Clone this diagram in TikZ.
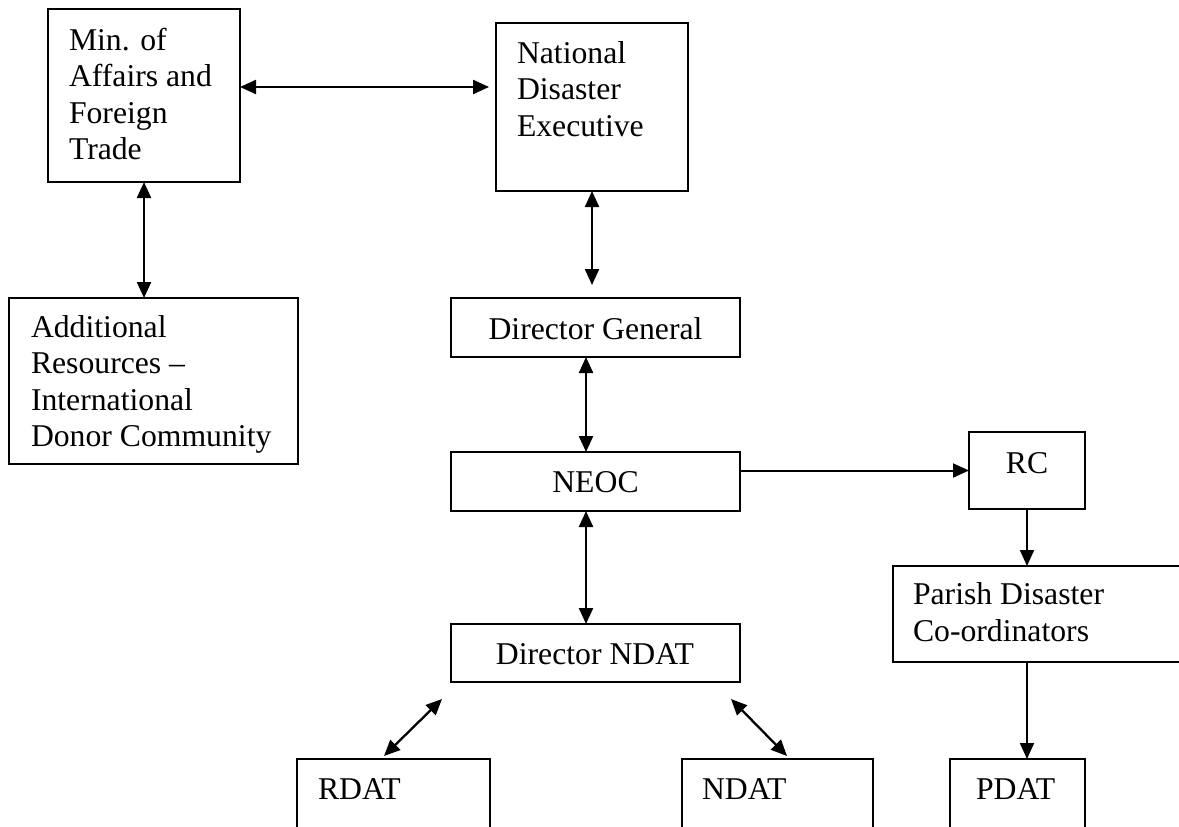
\documentclass[tikz,border=0pt]{standalone}
\usepackage{fontspec}
\setmainfont{Liberation Serif}
\usetikzlibrary{arrows.meta,calc}
\begin{document}
\begin{tikzpicture}[x=1bp,y=-1bp,
  box/.style={draw=black, line width=2bp, inner sep=0pt, outer sep=0pt},
  lbl/.style={inner sep=0pt, outer sep=0pt, anchor=base west, align=left, font=\fontsize{31.7bp}{36.5bp}\selectfont},
  clbl/.style={inner sep=0pt, outer sep=0pt, anchor=base, font=\fontsize{31.7bp}{36.5bp}\selectfont},
  tip/.tip={Triangle[length=16bp,width=14bp]},
  link/.style={line width=2bp, -tip},
  dlink/.style={line width=2.3bp, tip-tip},
]
\useasboundingbox[fill=white] (0,0) rectangle (1179,827);
% boxes
\node[box, minimum width=192bp, minimum height=173bp] (min) at (144,95.5) {};
\node[box, minimum width=192bp, minimum height=168bp] (nde) at (592,107) {};
\node[box, minimum width=289bp, minimum height=166bp] (add) at (153.5,381) {};
\node[box, minimum width=289bp, minimum height=59bp] (dg) at (595.5,327.5) {};
\node[box, minimum width=289bp, minimum height=59bp] (neoc) at (595.5,481.5) {};
\node[box, minimum width=116bp, minimum height=77bp] (rc) at (1027,470.5) {};
\node[box, minimum width=307bp, minimum height=96bp] (parish) at (1046.5,614) {};
\node[box, minimum width=289bp, minimum height=58bp] (dndat) at (595.5,653) {};
\node[box, minimum width=193bp, minimum height=111bp] (rdat) at (393.5,814.5) {};
\node[box, minimum width=191bp, minimum height=111bp] (ndat) at (777.5,814.5) {};
\node[box, minimum width=135bp, minimum height=111bp] (pdat) at (1017.5,814.5) {};
% texts (multi-line: base = last line)
\node[lbl] (tmin) at (69,159.5) {Min. of\\Affairs and\\Foreign\\Trade};
\node[lbl] (tnde) at (517,136) {National\\Disaster\\Executive};
\node[lbl] (tadd) at (31,446.5) {Additional\\Resources –\\International\\Donor Community};
\node[clbl] (tdg) at (595.5,339) {Director General};
\node[clbl] (tneoc) at (595.5,492) {NEOC};
\node[clbl] (trc) at (1027,473) {RC};
\node[lbl] (tparish) at (913,641) {Parish Disaster\\Co-ordinators};
\node[clbl] (tdndat) at (595,664) {Director NDAT};
\node[lbl] (trdat) at (318,799) {RDAT};
\node[lbl] (tndat) at (702,799) {NDAT};
\node[lbl] (tpdat) at (976,799) {PDAT};
% helper coordinates
\coordinate (y87) at (0,87);
\coordinate (x586) at (586,0);
\coordinate (dlt) at (442,699);
\coordinate (dlb) at (384,756);
\coordinate (drt) at (731,699);
\coordinate (drb) at (787,756);
% connectors
\draw[dlink] (min.east |- y87) -- ([xshift=-7bp]nde.west |- y87);
\draw[dlink] (min.south) -- (min.south |- add.north);
\draw[dlink] (nde.south) -- ([yshift=13bp]nde.south |- dg.north);
\draw[dlink] (dg.south -| x586) -- (neoc.north -| x586);
\draw[dlink] (neoc.south -| x586) -- (dndat.north -| x586);
\draw[link] (neoc.east |- rc.west) -- (rc.west);
\draw[link] (rc.south) -- (rc.south |- parish.north);
\draw[link] (rc.south |- parish.south) -- (rc.south |- pdat.north);
\draw[dlink] (dlt) -- (dlb);
\draw[dlink] (drt) -- (drb);
\end{tikzpicture}
\end{document}
